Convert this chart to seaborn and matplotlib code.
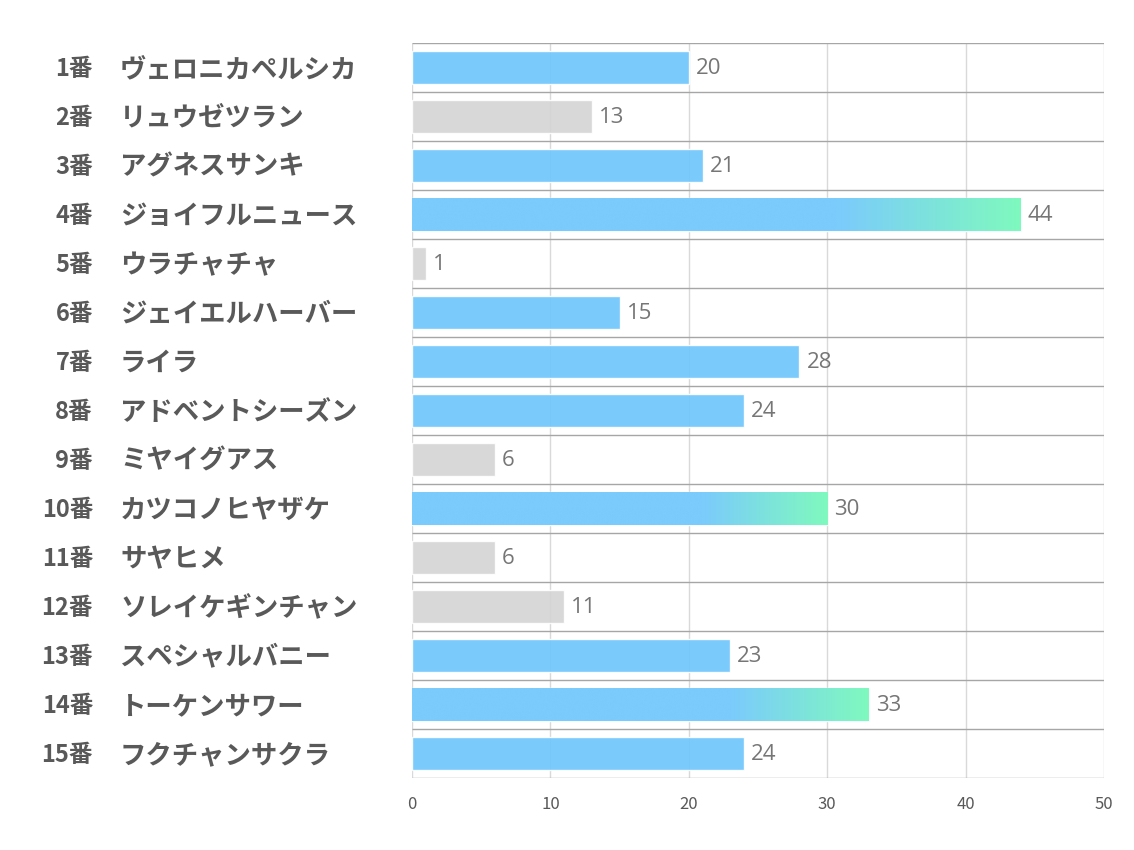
import numpy as np
import pandas as pd
import seaborn as sns
import matplotlib.pyplot as plt
from matplotlib.colors import to_rgb
from matplotlib.transforms import blended_transform_factory

# horse numbers, names and values
numbers = [f"{i}番" for i in range(1, 16)]
names = ["ヴェロニカペルシカ", "リュウゼツラン", "アグネスサンキ", "ジョイフルニュース",
         "ウラチャチャ", "ジェイエルハーバー", "ライラ", "アドベントシーズン",
         "ミヤイグアス", "カツコノヒヤザケ", "サヤヒメ", "ソレイケギンチャン",
         "スペシャルバニー", "トーケンサワー", "フクチャンサクラ"]
values = [20, 13, 21, 44, 1, 15, 28, 24, 6, 30, 6, 11, 23, 33, 24]
gray_rows = ["2番", "5番", "9番", "11番", "12番"]
gradient_rows = ["4番", "10番", "14番"]

BLUE = "#6CC5FC"
GRAY = "#D4D4D4"
# colours as seen on white (for the gradient image)
BLUE_SEEN = "#7BCBFC"
GREEN_SEEN = "#7FF9BE"

df = pd.DataFrame({"num": numbers, "name": names, "value": values})
palette = {n: (GRAY if n in gray_rows else BLUE) for n in numbers}

sns.set_theme(style="white")
plt.rcParams['font.family'] = ['Noto Sans CJK JP', 'DejaVu Sans']

fig = plt.figure(figsize=(11.34, 8.5), dpi=100)
ax = fig.add_axes([0.3633, 0.0847, 0.6102, 0.8647])

sns.barplot(data=df, x="value", y="num", hue="num", palette=palette,
            legend=False, orient="h", width=0.69, alpha=0.9, saturation=1,
            ax=ax, zorder=2)

# gradient fill on highlighted bars
b = np.array(to_rgb(BLUE_SEEN))
g = np.array(to_rgb(GREEN_SEEN))
t = np.linspace(0, 1, 256)
frac = np.clip((t - 0.7) / 0.3, 0, 1)[:, None]
grad = (b * (1 - frac) + g * frac)[None, :, :]
for patch, n in zip(ax.patches, df["num"]):
    if n in gradient_rows:
        x0, y0 = patch.get_x(), patch.get_y()
        w, h = patch.get_width(), patch.get_height()
        im = ax.imshow(grad, extent=(x0, x0 + w, y0 + h, y0), aspect="auto",
                       zorder=2.5, interpolation="bilinear")
        im.set_clip_path(patch)
ax.set_xlim(0, 50)
ax.set_ylim(len(numbers) - 0.5, -0.5)

# grid
ax.vlines(np.arange(0, 51, 10), -0.5, len(numbers) - 0.5, color="#D9D9D9", lw=1, zorder=0)
ax.hlines(np.arange(-0.5, len(numbers), 1), 0, 50, color="#A6A6A6", lw=1, zorder=3)
for s in ax.spines.values():
    s.set_visible(False)

# value labels
for i, v in enumerate(values):
    ax.text(v + 0.5, i + 0.03, str(v), va="center", ha="left", fontsize=16,
            color="#767676", family=["Open Sans", "DejaVu Sans"])

# y labels
ax.set_yticks([])
ax.set_ylabel("")
ax.set_xlabel("")
tr = blended_transform_factory(fig.transFigure, ax.transData)
for i, (n, nm) in enumerate(zip(numbers, names)):
    ax.text(93 / 1134, i + 0.04, n, transform=tr, ha="right", va="center",
            fontsize=17, fontweight="bold", color="#595959")
    ax.text(120 / 1134, i + 0.04, nm, transform=tr, ha="left", va="center",
            fontsize=19, fontweight="bold", color="#595959")

ax.set_xticks(np.arange(0, 51, 10))
ax.tick_params(axis="x", length=0, pad=13, labelsize=12, labelcolor="#595959")

fig.savefig("out.png", dpi=100, facecolor="white")
